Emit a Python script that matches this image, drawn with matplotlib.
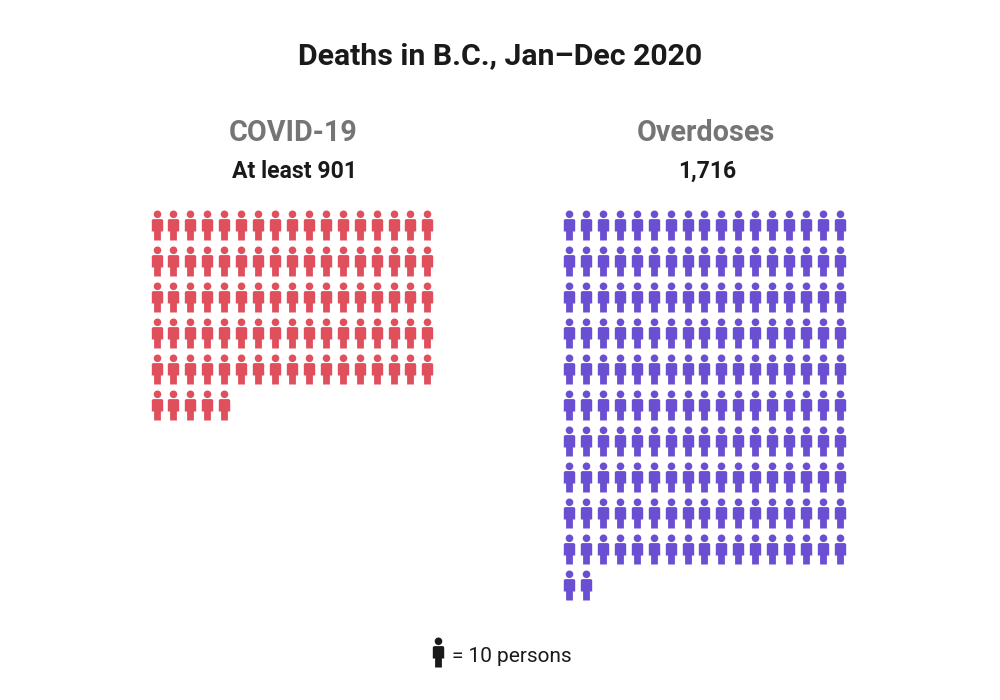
import matplotlib
matplotlib.use("Agg")
import matplotlib.pyplot as plt
import numpy as np
from matplotlib.path import Path

title = "Deaths in B.C., Jan–Dec 2020"
causes = ["COVID-19", "Overdoses"]
subtitles = ["At least 901", "1,716"]
deaths = [901, 1716]
colors = ["#E0505C", "#6B4FD3"]
per_icon = 10
legend_text = "= 10 persons"

FONT = ["Roboto", "DejaVu Sans"]
COLS = 17
PITCH_X, PITCH_Y = 16.93, 36.0
X0 = [156.5, 569.0]
Y0 = 225.2


def person():
    """Person glyph in px units, y up, centred on the origin."""
    circle = Path.circle((0, 11.2), 3.8)
    body = Path([
        (-4.0, 6.4), (4.0, 6.4), (5.7, 6.4), (5.7, 4.6),
        (5.7, -6.0), (3.4, -6.0), (3.4, -15.0), (-3.4, -15.0),
        (-3.4, -6.0), (-5.7, -6.0), (-5.7, 4.6), (-5.7, 6.4), (-4.0, 6.4),
    ], [Path.MOVETO, Path.LINETO, Path.CURVE3, Path.CURVE3,
        Path.LINETO, Path.LINETO, Path.LINETO, Path.LINETO,
        Path.LINETO, Path.LINETO, Path.LINETO, Path.CURVE3, Path.CURVE3])
    return Path.make_compound_path(circle, body)


GLYPH = person()
S = (30 * 0.72) ** 2

fig = plt.figure(figsize=(10, 7), dpi=100, facecolor="white")
ax = fig.add_axes([0, 0, 1, 1])
ax.set_xlim(0, 1000)
ax.set_ylim(700, 0)
ax.axis("off")

ax.text(500.5, 56, title, ha="center", va="center", family=FONT,
        fontsize=21.8, fontweight="bold", color="#1a1a1a")

for i, (cause, sub, n, col, x0) in enumerate(zip(causes, subtitles, deaths, colors, X0)):
    icons = int(round(n / per_icon))
    idx = np.arange(icons)
    xs = x0 + (idx % COLS) * PITCH_X
    ys = Y0 + (idx // COLS) * PITCH_Y
    ax.scatter(xs, ys, marker=GLYPH, s=S, color=col, linewidths=0)
    cx = x0 + (COLS - 1) * PITCH_X / 2 + 1
    ax.text(cx, 133, cause, ha="center", va="center", family=FONT,
            fontsize=20.7, fontweight="bold", color="#757575")
    ax.text(cx + 2, 171.5, sub, ha="center", va="center", family=FONT,
            fontsize=16.6, fontweight="bold", color="#1a1a1a")

ax.scatter([437.5], [652], marker=GLYPH, s=S, color="#1a1a1a", linewidths=0)
ax.text(452, 656, legend_text, ha="left", va="center", family=FONT,
        fontsize=15, color="#1a1a1a")

fig.savefig("out.png", dpi=100)
